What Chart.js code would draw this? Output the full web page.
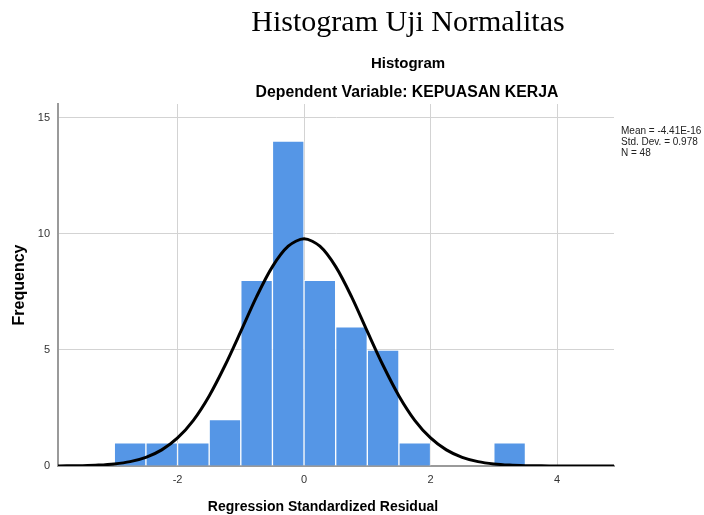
<!DOCTYPE html>
<html>
<head>
<meta charset="utf-8">
<script src="https://cdn.jsdelivr.net/npm/chart.js@4"></script>
<style>
  body { margin: 0; background: #fff; }
  #wrap { width: 704px; height: 515px; position: relative; }
</style>
</head>
<body>
<div id="wrap"><canvas id="histChart"></canvas></div>
<script>
// histogram bins (centre of each 0.5 wide bin) and counts
let binCenters = [-2.75, -2.25, -1.75, -1.25, -0.75, -0.25, 0.25, 0.75, 1.25, 1.75, 2.25, 2.75, 3.25]
let binCounts  = [1, 1, 1, 2, 8, 14, 8, 6, 5, 1, 0, 0, 1]

// normal curve
let curveX = [-4, -3.75, -3.5, -3.25, -3, -2.75, -2.5, -2.25, -2, -1.75, -1.5, -1.25, -1, -0.75, -0.5, -0.25,
              0, 0.25, 0.5, 0.75, 1, 1.25, 1.5, 1.75, 2, 2.25, 2.5, 2.75, 3, 3.25, 3.5, 3.75, 4, 4.25, 4.5, 4.75, 5]
let curveY = [0.002, 0.006, 0.016, 0.039, 0.089, 0.188, 0.373, 0.694, 1.21, 1.97, 3.02, 4.33, 5.80, 7.30, 8.59, 9.47,
              9.79, 9.47, 8.59, 7.30, 5.80, 4.33, 3.02, 1.97, 1.21, 0.694, 0.373, 0.188, 0.089, 0.039, 0.016, 0.006, 0.002, 0.001, 0, 0, 0]

let xTicks = [-2, 0, 2, 4]
let yTicks = [0, 5, 10, 15]
let statsLines = ['Mean = -4.41E-16', 'Std. Dev. = 0.978', 'N = 48']

let sans = '"Liberation Sans", Arial, sans-serif'

// texts around the plot
let textPlugin = {
  id: 'texts',
  afterDraw(chart) {
    let c = chart.ctx
    c.save()
    c.fillStyle = '#000'
    c.textAlign = 'center'
    c.textBaseline = 'alphabetic'
    c.font = '30px "Liberation Serif", "DejaVu Serif", serif'
    c.fillText('Histogram Uji Normalitas', 408, 31)
    c.font = 'bold 15px ' + sans
    c.fillText('Histogram', 408, 68)
    c.font = 'bold 15.8px ' + sans
    c.fillText('Dependent Variable: KEPUASAN KERJA', 407, 97)
    c.font = 'bold 14px ' + sans
    c.fillText('Regression Standardized Residual', 323, 511)
    c.font = 'bold 16px ' + sans
    c.save()
    c.translate(24, 285)
    c.rotate(-Math.PI / 2)
    c.fillText('Frequency', 0, 0)
    c.restore()
    c.textAlign = 'left'
    c.font = '10px ' + sans
    c.fillStyle = '#222'
    statsLines.forEach((s, i) => c.fillText(s, 621, 134 + i * 11))
    c.restore()
  }
}

let ctx = document.getElementById('histChart')

new Chart(ctx, {
  type: 'bar',
  data: {
    datasets: [{
      type: 'line',
      data: curveX.map((x, i) => ({ x: x, y: curveY[i] })),
      borderColor: '#000',
      borderWidth: 3,
      pointRadius: 0,
      tension: 0.3,
      order: 0
    }, {
      type: 'bar',
      data: binCenters.map((x, i) => ({ x: x, y: binCounts[i] })),
      backgroundColor: '#5596e6',
      borderColor: 'rgba(255,255,255,0.75)',
      borderWidth: 1,
      borderSkipped: 'bottom',
      barPercentage: 1,
      categoryPercentage: 1,
      grouped: false,
      order: 1
    }]
  },
  options: {
    responsive: true,
    maintainAspectRatio: false,
    animation: false,
    layout: { padding: { top: 104, right: 90, left: 0, bottom: 0 } },
    plugins: { legend: { display: false }, tooltip: { enabled: false } },
    scales: {
      x: {
        type: 'linear',
        min: -3.89,
        max: 4.9,
        offset: false,
        afterBuildTicks: (s) => { s.ticks = xTicks.map(v => ({ value: v })) },
        afterFit: (s) => { s.height = 49 },
        grid: { color: '#d3d3d3', lineWidth: 1, drawTicks: false, offset: false },
        border: { color: '#9a9a9a', width: 2 },
        ticks: { padding: 7, color: '#333', font: { family: sans, size: 11 } }
      },
      y: {
        min: 0,
        max: 15.6,
        afterBuildTicks: (s) => { s.ticks = yTicks.map(v => ({ value: v })) },
        afterFit: (s) => { s.width = 58 },
        grid: { color: '#d3d3d3', lineWidth: 1, drawTicks: false },
        border: { color: '#9a9a9a', width: 2 },
        ticks: { padding: 8, color: '#333', font: { family: sans, size: 11 } }
      }
    }
  },
  plugins: [textPlugin]
})
</script>
</body>
</html>
